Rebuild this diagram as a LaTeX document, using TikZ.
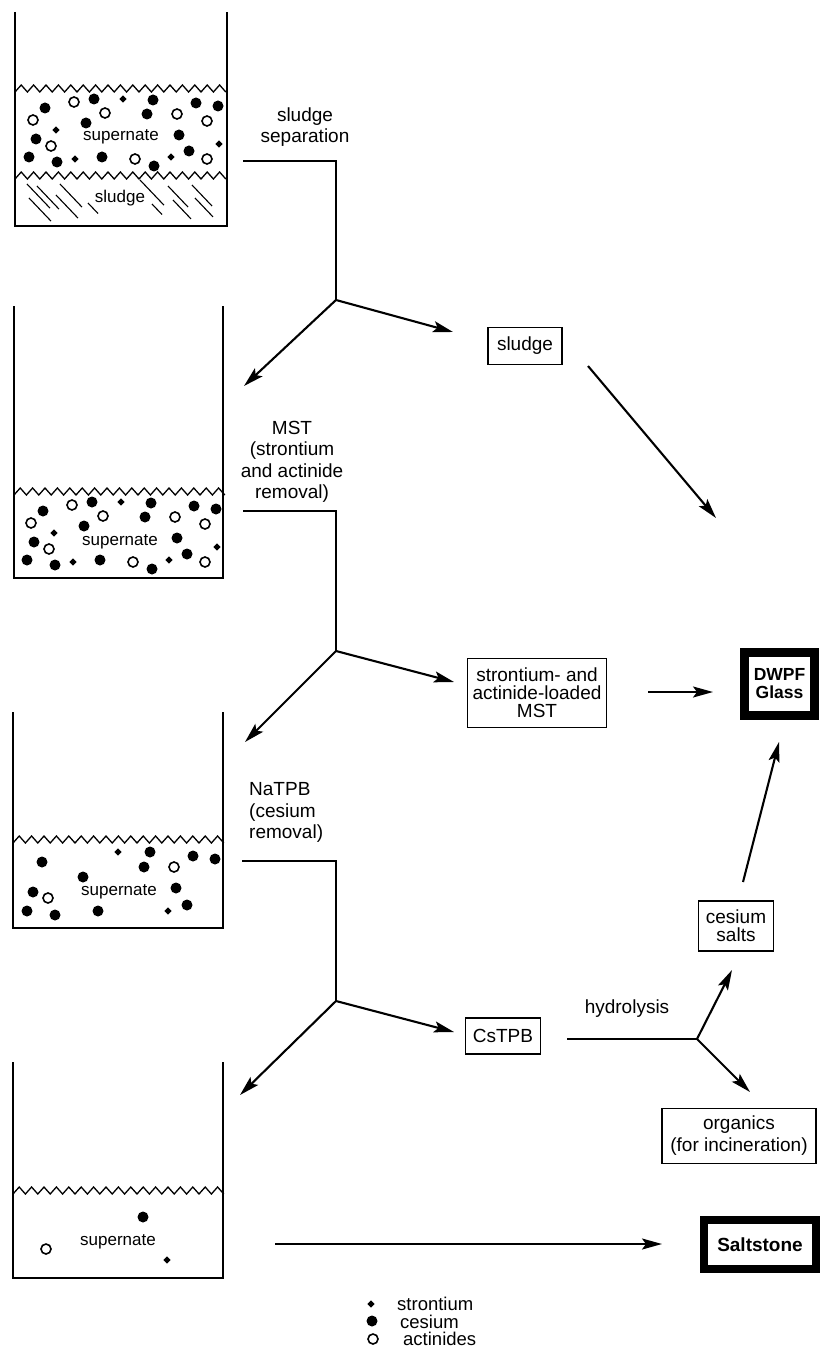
\documentclass[tikz,border=0pt]{standalone}
\usepackage{fontspec}
\setmainfont{Liberation Sans}
\usetikzlibrary{arrows.meta,shapes.geometric}

\tikzset{
  route/.style={line width=2.1pt},
  flow/.style={route, -{Stealth[length=20pt,width=11pt,inset=4pt]}},
  wall/.style={line width=2pt},
  wave/.style={line width=1.3pt},
  procbox/.style={draw, line width=1.8pt, align=center, inner sep=0pt, font=\fontsize{19}{18}\selectfont},
  finalbox/.style={draw, line width=9.5pt, align=center, inner sep=0pt, font=\fontsize{17.5}{18}\selectfont\bfseries},
  steplabel/.style={align=center, inner sep=0pt, font=\fontsize{19}{21.5}\selectfont},
  tanklabel/.style={inner sep=0pt, anchor=base, font=\fontsize{17}{17}\selectfont},
  keytext/.style={inner sep=0pt, anchor=base west, font=\fontsize{18.5}{17}\selectfont},
  cesium/.style={circle, fill, inner sep=0pt, minimum size=11pt},
  actinide/.style={circle, draw, line width=1.6pt, inner sep=0pt, minimum size=10pt},
  strontium/.style={diamond, fill, inner sep=0pt, minimum size=7.5pt},
}

% wavy liquid surface: #1 = left x, #2 = trough y
\newcommand\liquidline[2]{\draw[wave] (#1,#2) \foreach \k in {1,...,17}{ -- ++(6.2,-7) -- ++(6.2,7)};}

\begin{document}
\begin{tikzpicture}[x=1pt,y=-1pt]
\useasboundingbox (0,0) rectangle (821,1348);

% tanks
\draw[wall] (15,12) -- (15,226) -- (227,226) -- (227,12);
\draw[wall] (14,306) -- (14,578) -- (223,578) -- (223,306);
\draw[wall] (13,712) -- (13,928) -- (223,928) -- (223,712);
\draw[wall] (13,1062) -- (13,1278) -- (223,1278) -- (223,1062);

\liquidline{15}{92}
\liquidline{15}{179}
\liquidline{14}{495}
\liquidline{13}{843}
\liquidline{13}{1194}

% sludge hatching
\foreach \x/\y/\l in {27/184/23, 37/186/22, 60/184/22, 29/198/22, 56/195/22, 88/203/10,
                      140/180/24, 152/204/10, 168/186/20, 173/200/18, 192/185/20, 195/198/18}
  \draw[line width=1.1pt] (\x,\y) -- ++(\l,1.05*\l);

% particles, tanks 1 and 2
\foreach \dx/\dy in {0/0,-2/403}{
  \begin{scope}[shift={(\dx,\dy)}]
    \foreach \p in {(45,108),(94,99),(86,123),(36,139),(29,157),(57,162),(102,157),
                    (153,100),(147,114),(179,135),(196,103),(218,106),(189,151),(154,166)}
      \fill \p circle (5.5);
    \foreach \p in {(33,120),(74,102),(105,113),(51,146),(135,159),(177,114),(207,121),(207,159)}
      \draw[line width=1.6pt] \p circle (5);
    \foreach \p in {(123,99),(56,130),(75,159),(171,157),(219,144)}
      \fill \p +(0,-3.6) -- +(3.6,0) -- +(0,3.6) -- +(-3.6,0) -- cycle;
  \end{scope}
}

% particles, tank 3
\foreach \p in {(42,862),(150,852),(144,867),(83,877),(193,856),(215,859),
                (33,892),(176,888),(27,911),(55,915),(98,911),(187,905)}
  \fill \p circle (5.5);
\foreach \p in {(174,867),(48,898)}
  \draw[line width=1.6pt] \p circle (5);
\foreach \p in {(118,852),(168,911)}
  \fill \p +(0,-3.6) -- +(3.6,0) -- +(0,3.6) -- +(-3.6,0) -- cycle;

% particles, tank 4
\fill (143,1217) circle (5.5);
\draw[line width=1.6pt] (46,1249) circle (5);
\fill (167,1260) +(0,-3.6) -- +(3.6,0) -- +(0,3.6) -- +(-3.6,0) -- cycle;

\node[tanklabel] (sup1) at (121,141) {supernate};
\node[tanklabel] (sludge1) at (120,203) {sludge};
\node[tanklabel] (sup2) at (120,545) {supernate};
\node[tanklabel] (sup3) at (119,895) {supernate};
\node[tanklabel] (sup4) at (118,1245) {supernate};

% step labels
\node[steplabel, anchor=south] (lbl-sep) at (305,147) {sludge\\separation};
\node[steplabel, anchor=south] (lbl-mst) at (292,503) {MST\\(strontium\\and actinide\\removal)};
\node[steplabel, anchor=south west, align=left] (lbl-natpb) at (249,843) {NaTPB\\(cesium\\removal)};
\node[steplabel, anchor=base] (lbl-hyd) at (627,1013) {hydrolysis};

% products
\node[procbox, minimum width=74pt, minimum height=37pt] (sludgebox) at (525,346) {sludge};
\node[procbox, minimum width=139pt, minimum height=69pt] (mstbox) at (537,693) {strontium- and\\actinide-loaded\\MST};
\node[procbox, minimum width=75pt, minimum height=36pt] (cstpb) at (503,1036) {CsTPB};
\node[procbox, minimum width=75pt, minimum height=50pt] (cssalts) at (736,926) {cesium\\salts};
\node[procbox, minimum width=154pt, minimum height=55pt, font=\fontsize{19}{22}\selectfont] (organics) at (739,1136) {organics\\(for incineration)};
\node[finalbox, minimum width=70pt, minimum height=63pt] (dwpf) at (779.5,684) {DWPF\\Glass};
\node[finalbox, line width=8.5pt, minimum width=112pt, minimum height=49pt, font=\fontsize{19}{19}\selectfont\bfseries] (saltstone) at (760,1244.5) {Saltstone};

% connector ends
\coordinate (cut1) at (243,161);  \coordinate (fork1) at (336,300);
\coordinate (tank2-in) at (244,386); \coordinate (sludge-in) at (453,332);
\coordinate (cut2) at (243,511);  \coordinate (fork2) at (336,651);
\coordinate (tank3-in) at (245,742); \coordinate (mst-in) at (454,682);
\coordinate (cut3) at (242,861);  \coordinate (fork3) at (336,1001);
\coordinate (tank4-in) at (240,1095); \coordinate (cstpb-in) at (454,1032);
\coordinate (sludge-out) at (588,366); \coordinate (dwpf-nw) at (716,518);
\coordinate (mst-out) at (648,692); \coordinate (dwpf-w) at (713,692);
\coordinate (salts-out) at (743,882); \coordinate (dwpf-s) at (779,742);
\coordinate (hyd-start) at (567,1039); \coordinate (hyd) at (697,1039);
\coordinate (salts-in) at (732,970); \coordinate (org-in) at (750,1092);
\coordinate (tank4-out) at (275,1244); \coordinate (salt-in) at (662,1244);

% connectors
\draw[route] (cut1) -| (fork1);
\draw[flow] (fork1) -- (tank2-in);
\draw[flow] (fork1) -- (sludge-in);
\draw[route] (cut2) -| (fork2);
\draw[flow] (fork2) -- (tank3-in);
\draw[flow] (fork2) -- (mst-in);
\draw[route] (cut3) -| (fork3);
\draw[flow] (fork3) -- (tank4-in);
\draw[flow] (fork3) -- (cstpb-in);
\draw[flow] (sludge-out) -- (dwpf-nw);
\draw[flow] (mst-out) -- (dwpf-w);
\draw[flow] (salts-out) -- (dwpf-s);
\draw[route] (hyd-start) -- (hyd);
\draw[flow] (hyd) -- (salts-in);
\draw[flow] (hyd) -- (org-in);
\draw[flow] (tank4-out) -- (salt-in);

% key
\node[strontium] (key-sr) at (371,1304) {};
\node[cesium] (key-cs) at (372,1321) {};
\node[actinide] (key-ac) at (373,1339) {};
\node[keytext] (key-sr-txt) at (397,1310) {strontium};
\node[keytext] (key-cs-txt) at (400,1328) {cesium};
\node[keytext] (key-ac-txt) at (403,1345) {actinides};
\end{tikzpicture}
\end{document}
